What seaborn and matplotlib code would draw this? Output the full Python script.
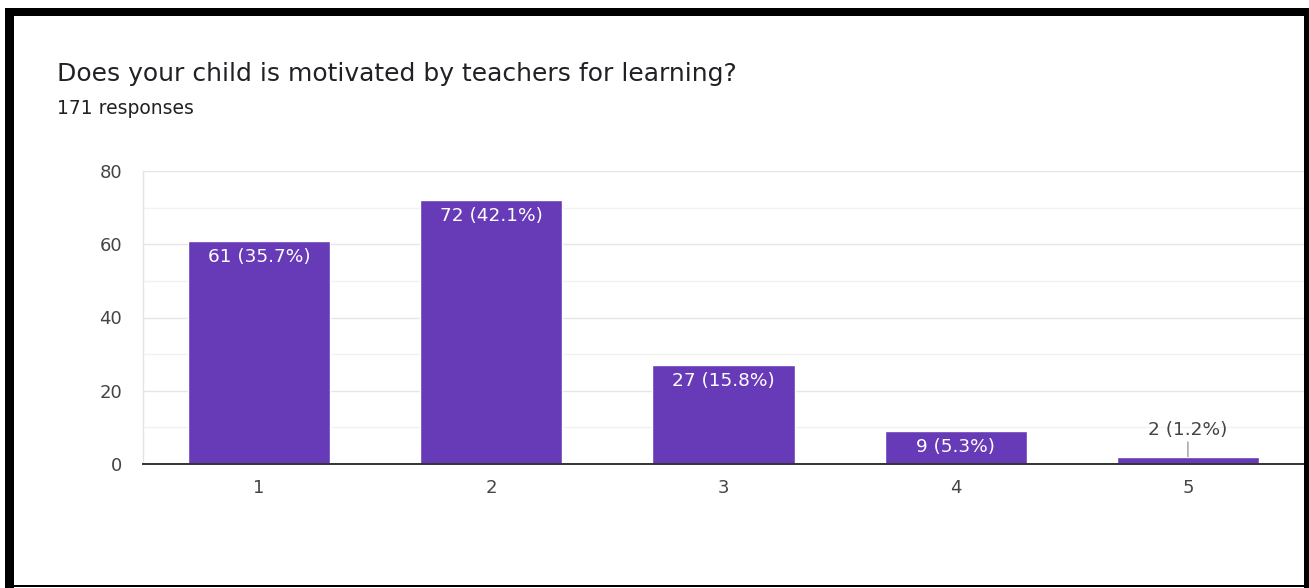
import matplotlib
matplotlib.use("Agg")
import matplotlib.pyplot as plt
from matplotlib.patches import Rectangle
from matplotlib.ticker import MultipleLocator
import seaborn as sns
import pandas as pd

# Survey answers (rating scale) and response counts
ratings = ["1", "2", "3", "4", "5"]
counts = [61, 72, 27, 9, 2]
total_responses = 171
title_text = "Does your child is motivated by teachers for learning?"
subtitle_text = f"{total_responses} responses"

BAR_COLOR = "#673AB7"
TEXT_DARK = "#202124"
TICK_COLOR = "#444444"

sns.set_theme(style="white")
plt.rcParams["font.family"] = ["DejaVu Sans"]

W, H = 1309, 588
fig = plt.figure(figsize=(W / 100, H / 100), dpi=100)
fig.patch.set_facecolor("white")

ax = fig.add_axes([143 / W, 1 - 464 / H, (1304 - 143) / W, (464 - 171) / H])

df = pd.DataFrame({"rating": ratings, "count": counts})
sns.barplot(data=df, x="rating", y="count", order=ratings, color=BAR_COLOR,
            saturation=1, width=0.613, ax=ax, zorder=3)

ax.set_xlim(-0.5, 4.5)
ax.set_ylim(0, 80)
ax.yaxis.set_major_locator(MultipleLocator(20))
ax.yaxis.set_minor_locator(MultipleLocator(10))
ax.grid(axis="y", which="major", color="#e6e6e6", linewidth=1.0, zorder=0)
ax.grid(axis="y", which="minor", color="#f2f2f2", linewidth=1.0, zorder=0)
ax.grid(axis="x", visible=False)
ax.set_axisbelow(True)

for side in ("top", "right"):
    ax.spines[side].set_visible(False)
ax.spines["left"].set_color("#e3e3e3")
ax.spines["left"].set_linewidth(1.0)
ax.spines["bottom"].set_color("#333333")
ax.spines["bottom"].set_linewidth(1.4)
ax.spines["bottom"].set_zorder(5)

ax.set_xlabel("")
ax.set_ylabel("")
ax.tick_params(axis="both", which="both", length=0, labelsize=13, colors=TICK_COLOR)
ax.tick_params(axis="y", pad=15)
ax.tick_params(axis="x", pad=11)

# Value labels: inside the bar when it is tall enough, above with a leader otherwise
for i, c in enumerate(counts):
    pct = c / total_responses * 100
    label = f"{c} ({pct:.1f}%)"
    if c >= 5:
        ax.annotate(label, xy=(i, c), xytext=(0, -16), textcoords="offset pixels",
                    ha="center", va="center", color="white", fontsize=13.3, zorder=6)
    else:
        ax.annotate(label, xy=(i, c), xytext=(0, 27), textcoords="offset pixels",
                    ha="center", va="center", color=TICK_COLOR, fontsize=13.3, zorder=6,
                    arrowprops=dict(arrowstyle="-", color="#999999", lw=1.0,
                                    shrinkA=0, shrinkB=0))

fig.text(57 / W, 1 - 81 / H, title_text, ha="left", va="baseline",
         fontsize=18, color=TEXT_DARK)
fig.text(57 / W, 1 - 114 / H, subtitle_text, ha="left", va="baseline",
         fontsize=13.5, color=TEXT_DARK)

# Black frame around the card
frame = [
    (5 / W, 1 - 16 / H, 1 - 5 / W, 8 / H),    # top band
    (5 / W, 0, 9 / W, 1 - 8 / H),             # left band
    (1304 / W, 0, 5 / W, 1 - 8 / H),          # right band
    (5 / W, 1 / H, 1299 / W, 2 / H),          # bottom rule
]
for x0, y0, w, h in frame:
    fig.patches.append(Rectangle((x0, y0), w, h, transform=fig.transFigure,
                                 facecolor="black", edgecolor="none", zorder=10))

fig.savefig("out.png", dpi=100, facecolor="white")
